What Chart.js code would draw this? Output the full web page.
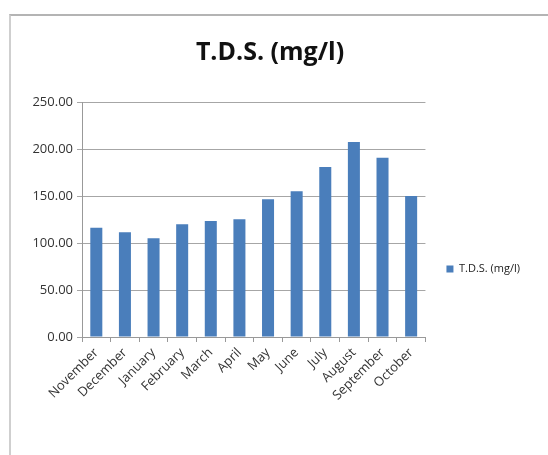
<!DOCTYPE html>
<html lang="en">
<head>
    <meta charset="UTF-8">
    <title>T.D.S. (mg/l)</title>
    <script src="https://cdn.jsdelivr.net/npm/chart.js"></script>
    <style>
        body {
            margin: 0;
            background: #fff;
        }

        .wrap {
            position: relative;
            width: 548px;
            height: 455px;
        }

        .frame {
            position: absolute;
            left: 9px;
            top: 14px;
            right: 0;
            bottom: 0;
            border-top: 2px solid #b4b4b4;
            border-left: 2px solid #cfcfcf;
        }

        canvas {
            position: absolute;
            left: 0;
            top: 0;
        }
    </style>
</head>
<body>
    <div class="wrap">
        <div class="frame"></div>
        <canvas id="chart" width="548" height="455"></canvas>
    </div>

    <script>
        const months = ['November', 'December', 'January', 'February', 'March', 'April',
            'May', 'June', 'July', 'August', 'September', 'October'];
        const tds = [116.3, 111.4, 105.0, 119.9, 123.4, 125.2, 146.5, 155.0, 180.9, 207.4, 190.7, 150.0];
        const yTicks = [0, 50, 100, 150, 200, 250];

        const font = "'Open Sans', 'Noto Sans', sans-serif";

        new Chart(document.getElementById('chart'), {
            type: 'bar',
            data: {
                labels: months,
                datasets: [{
                    label: 'T.D.S. (mg/l)',
                    data: tds,
                    backgroundColor: '#4a7ebb',
                    borderWidth: 0,
                    categoryPercentage: 1,
                    barPercentage: 0.42
                }]
            },
            options: {
                responsive: false,
                animation: false,
                layout: { padding: { left: 10, right: 18, top: 20, bottom: 0 } },
                plugins: {
                    title: {
                        display: true,
                        text: 'T.D.S. (mg/l)',
                        color: '#111',
                        font: { family: font, size: 25, weight: 'bold' },
                        padding: { top: 18, bottom: 34 }
                    },
                    legend: {
                        position: 'right',
                        // empty legend title only pushes the item down
                        title: { display: true, text: ' ', font: { size: 11 }, padding: { top: 0, bottom: 50 } },
                        labels: {
                            boxWidth: 7,
                            boxHeight: 7,
                            padding: 21,
                            color: '#222',
                            font: { family: font, size: 11 }
                        }
                    },
                    tooltip: { enabled: false }
                },
                scales: {
                    x: {
                        offset: true,
                        grid: {
                            offset: true,
                            drawOnChartArea: false,
                            tickLength: 5,
                            color: '#999'
                        },
                        border: { color: '#999', width: 1 },
                        ticks: {
                            minRotation: 45,
                            maxRotation: 45,
                            autoSkip: false,
                            color: '#333',
                            font: { family: font, size: 13 }
                        },
                        afterFit: s => { s.height = 118; }
                    },
                    y: {
                        min: 0,
                        max: 250,
                        afterBuildTicks: s => { s.ticks = yTicks.map(v => ({ value: v })); },
                        grid: { color: '#a6a6a6', tickLength: 5 },
                        border: { color: '#999', width: 1 },
                        ticks: {
                            color: '#333',
                            padding: 4,
                            font: { family: font, size: 13 },
                            callback: v => v.toFixed(2)
                        },
                        afterFit: s => { s.width = 72; }
                    }
                }
            }
        });
    </script>
</body>
</html>
